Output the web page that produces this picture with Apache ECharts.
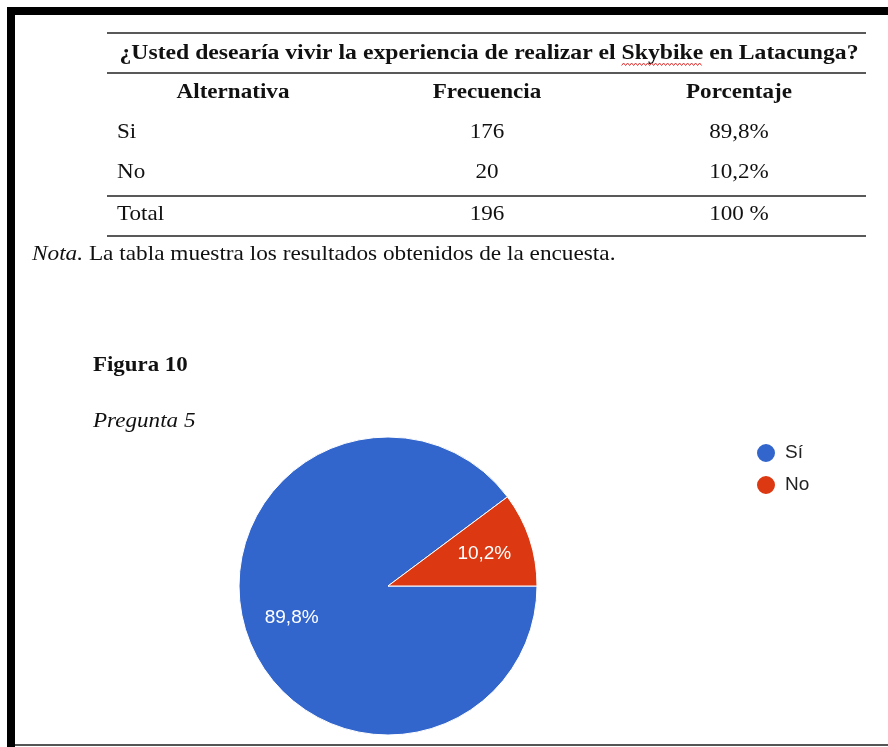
<!DOCTYPE html>
<html>
<head>
<meta charset="utf-8">
<script src="https://cdn.jsdelivr.net/npm/echarts@6/dist/echarts.min.js"></script>
<style>
html,body{margin:0;padding:0;background:#fff;}
#chart{width:888px;height:747px;}
</style>
</head>
<body>
<div id="chart"></div>
<script>
// ---- data ----
const titleBefore = '¿Usted desearía vivir la experiencia de realizar el ';
const titleFlagged = 'Skybike';
const titleAfter = ' en Latacunga?';
const tableHeaders = ['Alternativa', 'Frecuencia', 'Porcentaje'];
const tableLabels = ['Si', 'No'];
const legendNames = ['Sí', 'No'];
const frequencies = [176, 20];
const percentLabels = ['89,8%', '10,2%'];
const totalRow = ['Total', '196', '100 %'];
const noteText = 'La tabla muestra los resultados obtenidos de la encuesta.';
const figureTitle = 'Figura 10';
const figureSubtitle = 'Pregunta 5';
const sliceColors = ['#3366CC', '#DC3912'];

const serif = '"Liberation Serif", "Times New Roman", serif';
const sans = '"Liberation Sans", Arial, sans-serif';

const chart = echarts.init(document.getElementById('chart'), null, {renderer: 'canvas'});

const colX = [233, 487, 739];
const rowY = [132, 172];
const SX = 1.1;
const graphics = [];

// frame
graphics.push({type: 'rect', shape: {x: 7, y: 7, width: 881, height: 8}, style: {fill: '#000'}});
graphics.push({type: 'rect', shape: {x: 7, y: 7, width: 8, height: 740}, style: {fill: '#000'}});
graphics.push({type: 'rect', shape: {x: 15, y: 744, width: 873, height: 2}, style: {fill: '#555'}});

// table lines
[33, 73, 196, 236].forEach(y => {
  graphics.push({type: 'line', shape: {x1: 107, y1: y, x2: 866, y2: y}, style: {stroke: '#222', lineWidth: 1.5}});
});

function txt(text, x, y, font, align, sx, extra) {
  return {
    type: 'text',
    x: x, y: y,
    scaleX: sx || SX,
    style: Object.assign({text: text, x: 0, y: 0, font: font, fill: '#111', textAlign: align || 'center', textVerticalAlign: 'middle'}, extra || {})
  };
}

const titleFont = 'bold 21px ' + serif;
const titleSX = 1.128;
const titleCX = 489;
graphics.push(txt(titleBefore + titleFlagged + titleAfter, titleCX, 54, titleFont, 'center', titleSX));
// spelling squiggle under the flagged word
(function(){
  const c = document.createElement('canvas').getContext('2d');
  c.font = titleFont;
  const full = c.measureText(titleBefore + titleFlagged + titleAfter).width * titleSX;
  const pre = c.measureText(titleBefore).width * titleSX;
  const w = c.measureText(titleFlagged).width * titleSX;
  const x0 = titleCX - full / 2 + pre;
  const pts = [];
  for (let x = x0, i = 0; x <= x0 + w; x += 2, i++) pts.push([x, i % 2 ? 63 : 65.5]);
  graphics.push({type: 'polyline', shape: {points: pts}, style: {stroke: '#e03030', lineWidth: 1, fill: null}});
})();

tableHeaders.forEach((h, i) => graphics.push(txt(h, colX[i], 93, 'bold 21px ' + serif, 'center')));
tableLabels.forEach((lab, r) => {
  graphics.push(txt(lab, 117, rowY[r], '21px ' + serif, 'left'));
  graphics.push(txt(String(frequencies[r]), colX[1], rowY[r], '21px ' + serif, 'center'));
  graphics.push(txt(percentLabels[r], colX[2], rowY[r], '21px ' + serif, 'center'));
});
graphics.push(txt(totalRow[0], 117, 214, '21px ' + serif, 'left'));
graphics.push(txt(totalRow[1], colX[1], 214, '21px ' + serif, 'center'));
graphics.push(txt(totalRow[2], colX[2], 214, '21px ' + serif, 'center'));

graphics.push({
  type: 'text',
  x: 32, y: 254, scaleX: 1.108,
  style: {
    text: '{i|Nota.} ' + noteText, x: 0, y: 0, font: '21px ' + serif, fill: '#111',
    textAlign: 'left', textVerticalAlign: 'middle',
    rich: {i: {fontStyle: 'italic', fontFamily: serif, fontSize: 21, fill: '#111'}}
  }
});

graphics.push(txt(figureTitle, 93, 366, 'bold 21px ' + serif, 'left', 1.09));
graphics.push(txt(figureSubtitle, 93, 421, 'italic 21px ' + serif, 'left', 1.1));

const pieData = legendNames.map((n, i) => ({name: n, value: frequencies[i], itemStyle: {color: sliceColors[i]}}));
const total = frequencies.reduce((a, b) => a + b, 0);

chart.setOption({
  animation: false,
  backgroundColor: '#fff',
  graphic: graphics,
  legend: {
    data: legendNames,
    orient: 'vertical',
    left: 755,
    top: 442,
    padding: 0,
    icon: 'circle',
    itemWidth: 20,
    itemHeight: 20,
    itemGap: 10,
    textStyle: {fontFamily: sans, fontSize: 19, color: '#222', lineHeight: 20, padding: [0, 0, 0, 4]},
    selectedMode: false
  },
  series: [
    {
      type: 'pie',
      center: [388, 586],
      radius: 149,
      startAngle: 0,
      clockwise: true,
      silent: true,
      label: {show: false},
      labelLine: {show: false},
      itemStyle: {borderColor: '#fff', borderWidth: 1},
      emphasis: {disabled: true},
      data: pieData
    },
    {
      type: 'pie',
      center: [388, 586],
      radius: [48, 149],
      startAngle: 0,
      clockwise: true,
      silent: true,
      itemStyle: {color: 'rgba(0,0,0,0)', borderWidth: 0},
      label: {
        show: true,
        position: 'inside',
        fontFamily: sans,
        fontSize: 19,
        color: '#fff',
        formatter: p => (p.value / total * 100).toFixed(1).replace('.', ',') + '%'
      },
      labelLine: {show: false},
      emphasis: {disabled: true},
      data: legendNames.map((n, i) => ({name: n, value: frequencies[i]}))
    }
  ]
});
</script>
</body>
</html>
